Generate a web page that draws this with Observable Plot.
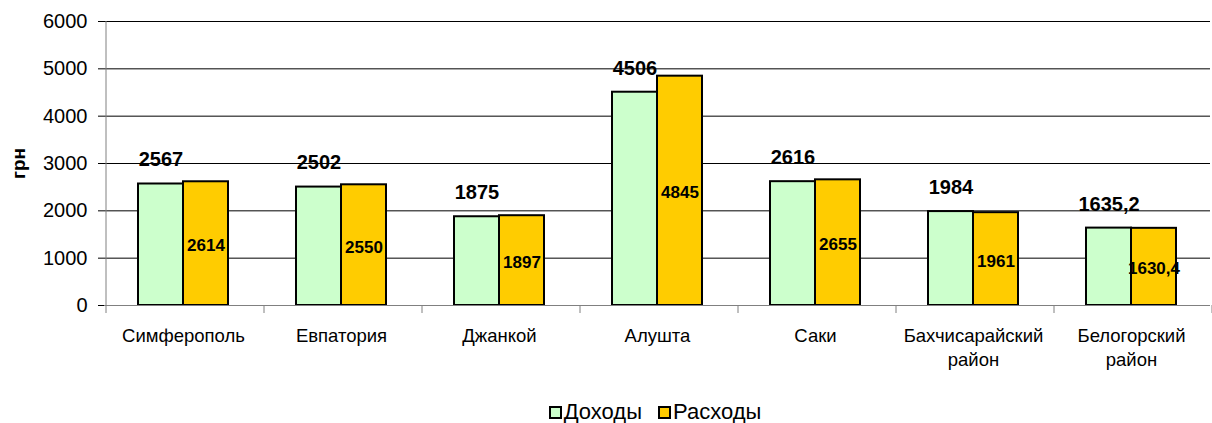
<!DOCTYPE html>
<html><head><meta charset="utf-8">
<script src="https://cdn.jsdelivr.net/npm/d3@7"></script>
<script src="https://cdn.jsdelivr.net/npm/@observablehq/plot@0.6"></script>
<style>
html,body{margin:0;padding:0;background:#fff;}
body{width:1212px;height:423px;overflow:hidden;font-family:"Liberation Sans",Arial,sans-serif;}
#legend{display:flex;justify-content:center;align-items:center;padding-left:98px;padding-top:14px;height:26px;font-size:22px;color:#000;}
.item{display:flex;align-items:center;margin:0 8px;}
.sw{width:9px;height:9px;border:2px solid #000;margin-right:2px;}
</style></head><body>
<div id="chart"></div>
<div id="legend"></div>
<script>
const cities = ["Симферополь","Евпатория","Джанкой","Алушта","Саки","Бахчисарайский район","Белогорский район"];
const cityLabels = ["Симферополь","Евпатория","Джанкой","Алушта","Саки","Бахчисарайский\nрайон","Белогорский\nрайон"];
const series = ["Доходы","Расходы"];
const income = [2567, 2502, 1875, 4506, 2616, 1984, 1635.2];
const expense = [2614, 2550, 1897, 4845, 2655, 1961, 1630.4];
const yTicks = [0, 1000, 2000, 3000, 4000, 5000, 6000];
const colors = ["#CCFFCC", "#FFCC00"];
const yTitle = "грн";

const data = cities.flatMap((c, i) => [
  {city: c, series: series[0], value: income[i]},
  {city: c, series: series[1], value: expense[i]}
]);
const fmt = v => String(v).replace(".", ",");

// axis line + category boundary ticks, drawn once (in the first facet, whose offset is zero)
function frameLines(index, scales, values, dims) {
  const g = d3.create("svg:g");
  const fx = scales.fx, y = scales.y;
  if (!fx || !y) return g.node();
  const y0 = y(0), y1 = y(yTicks[yTicks.length - 1]);
  const step = fx(cities[1]) - fx(cities[0]);
  const xs = cities.map(c => fx(c));
  xs.push(xs[xs.length - 1] + step);
  g.append("line").attr("x1", xs[0]).attr("x2", xs[0]).attr("y1", y1).attr("y2", y0).attr("stroke", "#808080");
  for (const x of xs) {
    g.append("line").attr("x1", x).attr("x2", x).attr("y1", y0).attr("y2", y0 + 8).attr("stroke", "#808080");
  }
  return g.node();
}

const chart = Plot.plot({
  width: 1212, height: 385,
  marginLeft: 102, marginRight: 0, marginTop: 21, marginBottom: 80,
  style: {fontFamily: "'Liberation Sans', Arial, sans-serif", fontSize: "17px", background: "white", color: "black"},
  fx: {domain: cities, padding: 0, label: null},
  x: {domain: series, paddingInner: 0, paddingOuter: 0.742, axis: null},
  y: {domain: [0, 6000], ticks: yTicks},
  color: {domain: series, range: colors},
  marks: [
    Plot.gridY(yTicks, {stroke: "black", strokeOpacity: 1}),
    Plot.axisY(yTicks, {tickSize: 6, tickPadding: 11, fontSize: 20, label: null, stroke: "black", tickFormat: d => String(d)}),
    Plot.axisFx({anchor: "bottom", tickSize: 0, tickPadding: 19, lineHeight: 1.3, fontSize: 18.5, label: null,
      tickFormat: c => cityLabels[cities.indexOf(c)]}),
    Plot.barY(data, {fx: "city", x: "series", y: "value", fill: "series", stroke: "black", strokeWidth: 2}),
    Plot.ruleY([cities[0]], {fx: d => d, y: () => 0, stroke: "#808080", render: frameLines}),
    Plot.ruleY([0], {stroke: "#808080"}),
    Plot.text([{city: cities[0], t: yTitle}], {fx: "city", text: "t", frameAnchor: "left", textAnchor: "middle", lineAnchor: "middle", rotate: -90, dx: -86, fontSize: 19, fontWeight: "bold"}),
    Plot.text(data.filter(d => d.series === series[0]), {fx: "city", x: "series", y: "value", text: d => fmt(d.value), dy: -24, fontSize: 20, fontWeight: "bold"}),
    Plot.text(data.filter(d => d.series === series[1]), {fx: "city", x: "series", y: d => d.value / 2, text: d => fmt(d.value), dy: 2, fontSize: 17, fontWeight: "bold"})
  ]
});
document.getElementById("chart").appendChild(chart);

const legend = document.getElementById("legend");
series.forEach((s, i) => {
  const item = document.createElement("div");
  item.className = "item";
  const sw = document.createElement("div");
  sw.className = "sw";
  sw.style.background = colors[i];
  const t = document.createElement("span");
  t.textContent = s;
  item.appendChild(sw); item.appendChild(t);
  legend.appendChild(item);
});
</script>
</body></html>
